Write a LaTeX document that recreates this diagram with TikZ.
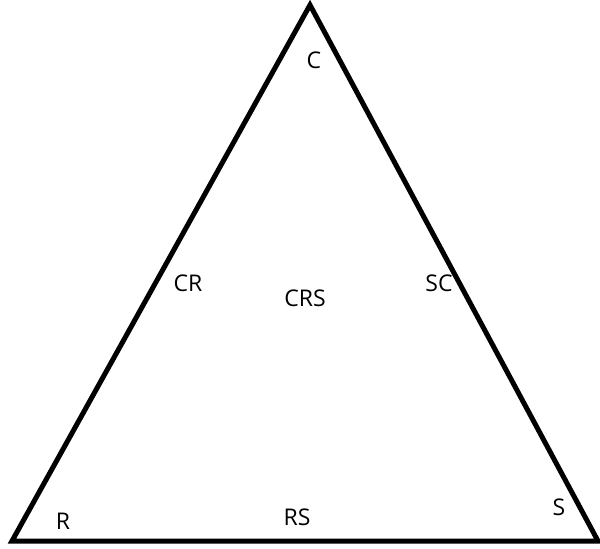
\documentclass[tikz,border=0pt]{standalone}
\usepackage{fontspec}
\setmainfont{Open Sans}
\begin{document}
\begin{tikzpicture}[x=1pt,y=-1pt,
  edge/.style={draw=black,line width=5pt,line join=miter},
  lbl/.style={font=\fontsize{23}{27}\selectfont,inner sep=0pt,text=black}]
\useasboundingbox (0,0) rectangle (600,549);
\coordinate (top) at (310,5);
\coordinate (bl) at (12,541);
\coordinate (br) at (598,541);
\draw[edge] (top) -- (bl) -- (br) -- cycle;
\node[lbl] (c) at (314,60) {C};
\node[lbl] (cr) at (188,283) {CR};
\node[lbl] (crs) at (305,298) {CRS};
\node[lbl] (sc) at (439,283) {SC};
\node[lbl] (r) at (63,521) {R};
\node[lbl] (rs) at (297,517) {RS};
\node[lbl] (s) at (559,507) {S};
\end{tikzpicture}
\end{document}
